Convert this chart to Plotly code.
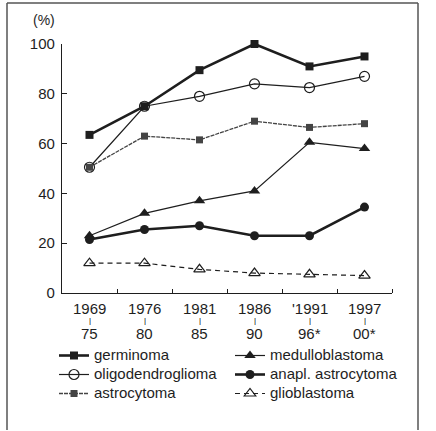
import plotly.graph_objects as go

periods_top = ["1969", "1976", "1981", "1986", "'1991", "1997"]
periods_bottom = ["75", "80", "85", "90", "96*", "00*"]

germinoma = [63.5, 75, 89.5, 100, 91, 95]
oligodendroglioma = [50.5, 75, 79, 84, 82.5, 87]
astrocytoma = [50.5, 63, 61.5, 69, 66.5, 68]
medulloblastoma = [23, 32, 37, 41, 60.5, 58]
anapl_astrocytoma = [21.5, 25.5, 27, 23, 23, 34.5]
glioblastoma = [12, 12, 9.5, 8, 7.5, 7]

y_ticks = [0, 20, 40, 60, 80, 100]

W, H = 436, 431
ML, MR, MT, MB = 62, 44, 44, 138
PW = W - ML - MR
PH = H - MT - MB

def px_x(p):
    return (p - ML) / PW

def px_y(p):
    return (H - MB - p) / PH

xs = list(range(len(periods_top)))
INK = "#1e1e1e"

def nm(s):
    return "<span style='font-size:15px'>" + s + "</span>"

series = [
    ("germinoma", germinoma, dict(width=2.6, color=INK), dict(symbol="square", size=8, color=INK), "legend"),
    ("oligodendroglioma", oligodendroglioma, dict(width=1.2, color=INK),
     dict(symbol="circle-open", size=10, color=INK, line=dict(width=1.2, color=INK)), "legend"),
    ("astrocytoma", astrocytoma, dict(width=1.3, color="#444", dash="4px,1px"),
     dict(symbol="square", size=7, color="#444"), "legend"),
    ("medulloblastoma", medulloblastoma, dict(width=1.2, color=INK),
     dict(symbol="triangle-up", size=10, color=INK), "legend2"),
    ("anapl. astrocytoma", anapl_astrocytoma, dict(width=2.6, color=INK),
     dict(symbol="circle", size=9, color=INK), "legend2"),
    ("glioblastoma", glioblastoma, dict(width=1.2, color=INK, dash="5px,4px"),
     dict(symbol="triangle-up-open", size=10, color=INK, line=dict(width=1.2, color=INK)), "legend2"),
]

fig = go.Figure()
for name, vals, line, marker, lg in series:
    fig.add_trace(go.Scatter(x=xs, y=vals, mode="lines+markers", name=nm(name),
                             line=line, marker=marker, legend=lg, cliponaxis=False))

annotations = []
for i, (t, b) in enumerate(zip(periods_top, periods_bottom)):
    annotations.append(dict(x=i, y=px_y(308), xref="x", yref="paper", text=t, showarrow=False,
                            font=dict(size=15, color=INK), xanchor="center", yanchor="middle"))
    annotations.append(dict(x=i, y=px_y(320), xref="x", yref="paper", text="|", showarrow=False,
                            font=dict(size=8, color="#000"), xanchor="center", yanchor="middle"))
    annotations.append(dict(x=i, y=px_y(333), xref="x", yref="paper", text=b, showarrow=False,
                            font=dict(size=15, color=INK), xanchor="center", yanchor="middle"))
annotations.append(dict(x=px_x(44), y=px_y(20), xref="paper", yref="paper", text="(%)", showarrow=False,
                        font=dict(size=14, color=INK), xanchor="center", yanchor="middle"))

fig.update_layout(
    width=W, height=H,
    margin=dict(l=ML, r=MR, t=MT, b=MB),
    paper_bgcolor="white", plot_bgcolor="white",
    font=dict(family="Liberation Sans, Arial, sans-serif", color=INK),
    annotations=annotations,
    legend=dict(x=px_x(54), y=px_y(341), xanchor="left", yanchor="top",
                font=dict(size=10.5, color=INK), bgcolor="rgba(0,0,0,0)", tracegroupgap=0,
                itemwidth=30),
    legend2=dict(x=px_x(230), y=px_y(341), xanchor="left", yanchor="top",
                 font=dict(size=10.5, color=INK), bgcolor="rgba(0,0,0,0)", tracegroupgap=0,
                 itemwidth=30),
    shapes=[dict(type="line", xref="paper", yref="paper",
                 x0=px_x(7), x1=px_x(7), y0=px_y(430), y1=px_y(3),
                 line=dict(color="#555", width=1.5)),
            dict(type="line", xref="paper", yref="paper",
                 x0=px_x(7), x1=px_x(418), y0=px_y(3), y1=px_y(3),
                 line=dict(color="#555", width=1.5)),
            dict(type="line", xref="paper", yref="paper",
                 x0=px_x(418), x1=px_x(418), y0=px_y(430), y1=px_y(3),
                 line=dict(color="#555", width=1.5))],
)

fig.update_xaxes(range=[-0.5, 5.5], showgrid=False, zeroline=False, showline=True,
                 linecolor=INK, linewidth=1.3, showticklabels=False, ticks="",
                 tickmode="array", tickvals=xs,
                 minor=dict(tickmode="array", tickvals=[0.5, 1.5, 2.5, 3.5, 4.5, 5.5],
                            ticks="inside", ticklen=4, tickcolor=INK, tickwidth=1.2))
fig.update_yaxes(range=[0, 100], showgrid=False, zeroline=False, showline=True,
                 linecolor=INK, linewidth=1.3, ticks="inside", ticklen=5, tickwidth=1.2,
                 tickcolor=INK, tickmode="array", tickvals=y_ticks,
                 tickfont=dict(size=15, color=INK), ticklabelstandoff=3)

fig.write_html("out.html")
